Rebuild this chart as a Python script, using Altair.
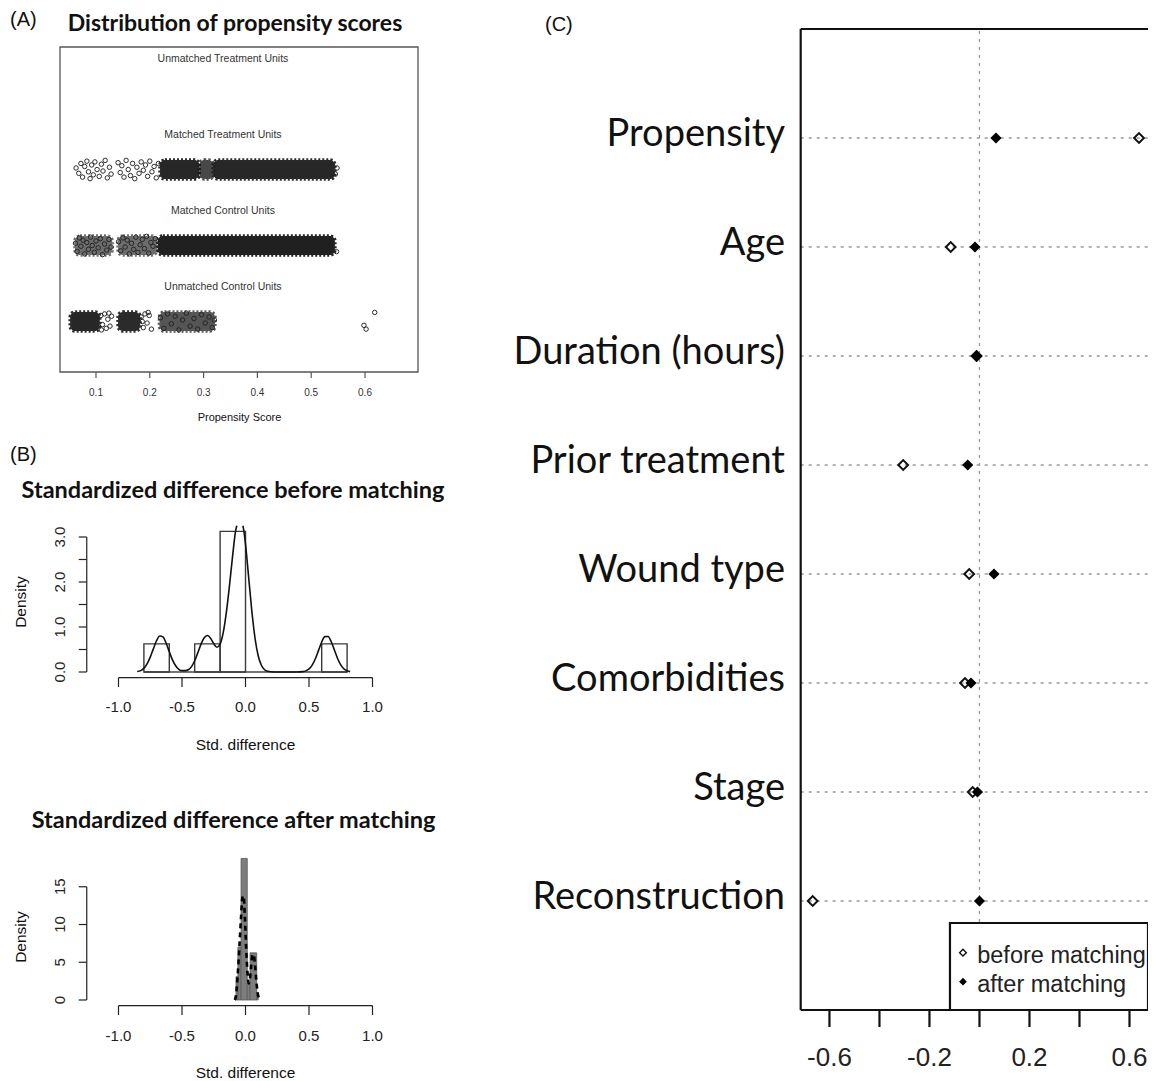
import altair as alt
import pandas as pd

# ---------------- Panel A: distribution of propensity scores ----------------
a_groups = ["Unmatched Control Units", "Matched Control Units",
            "Matched Treatment Units", "Unmatched Treatment Units"]
a_group_rows = [1, 2, 3, 4]
a_label_x = 0.336
a_ticks = [0.1, 0.2, 0.3, 0.4, 0.5, 0.6]
a_tick_labels = ["0.1", "0.2", "0.3", "0.4", "0.5", "0.6"]

# dense clusters of overlapping units: row, start score, end score, darkness
a_blob_row = [3, 3, 3, 2, 2, 2, 1, 1, 1]
a_blob_start = [0.219, 0.292, 0.318, 0.061, 0.141, 0.215, 0.052, 0.141, 0.218]
a_blob_end = [0.292, 0.318, 0.544, 0.130, 0.213, 0.544, 0.107, 0.182, 0.321]
a_blob_dark = [0.92, 0.78, 0.92, 0.62, 0.62, 0.95, 0.92, 0.90, 0.72]

# scattered units: score and vertical jitter (rows)
a_mt_score = [0.063, 0.068, 0.072, 0.075, 0.079, 0.083, 0.086, 0.089, 0.092, 0.095,
              0.098, 0.102, 0.106, 0.110, 0.113, 0.117, 0.121, 0.125, 0.128, 0.141,
              0.145, 0.148, 0.152, 0.156, 0.160, 0.164, 0.168, 0.172, 0.176, 0.180,
              0.184, 0.188, 0.192, 0.196, 0.200, 0.204, 0.208, 0.212, 0.216, 0.540,
              0.545, 0.548]
a_mt_jitter = [0.02, -0.05, 0.08, -0.10, 0.04, 0.11, -0.03, -0.12, 0.06, -0.07,
               0.10, 0.00, -0.09, 0.07, -0.02, 0.12, -0.11, 0.03, -0.06, 0.09,
               -0.04, 0.05, -0.10, 0.12, 0.00, -0.08, 0.08, -0.12, 0.03, -0.05,
               0.10, -0.01, 0.06, -0.09, 0.11, -0.03, 0.04, -0.11, 0.08, 0.05,
               -0.06, 0.02]
a_mc_score = [0.062, 0.065, 0.069, 0.072, 0.076, 0.079, 0.083, 0.086, 0.090, 0.093,
              0.097, 0.100, 0.104, 0.108, 0.112, 0.116, 0.120, 0.124, 0.128, 0.142,
              0.146, 0.150, 0.154, 0.158, 0.162, 0.166, 0.170, 0.174, 0.178, 0.182,
              0.186, 0.190, 0.194, 0.198, 0.202, 0.206, 0.210, 0.547]
a_mc_jitter = [0.03, -0.08, 0.10, -0.01, 0.07, -0.11, 0.04, -0.05, 0.11, 0.00,
               -0.09, 0.06, -0.03, 0.09, -0.12, 0.02, -0.06, 0.08, -0.02, 0.05,
               -0.07, 0.10, -0.02, 0.07, -0.11, 0.03, -0.05, 0.11, -0.09, 0.01,
               0.08, -0.04, 0.12, -0.10, 0.04, -0.01, 0.09, -0.08]
a_uc_score = [0.109, 0.112, 0.116, 0.119, 0.122, 0.126, 0.129, 0.110, 0.124,
              0.184, 0.188, 0.191, 0.195, 0.199, 0.203, 0.186, 0.197,
              0.220, 0.226, 0.233, 0.240, 0.247, 0.254, 0.261, 0.268, 0.275, 0.282,
              0.289, 0.296, 0.303, 0.310, 0.316, 0.320,
              0.598, 0.602, 0.618]
a_uc_jitter = [0.08, -0.04, 0.10, -0.09, 0.03, -0.06, 0.07, -0.11, 0.11,
               0.06, -0.08, 0.10, -0.02, 0.08, -0.10, 0.00, 0.12,
               0.05, -0.09, 0.10, -0.03, 0.07, -0.11, 0.02, 0.11, -0.06, 0.04,
               -0.10, 0.09, -0.02, 0.06, -0.08, 0.02,
               -0.05, -0.10, 0.12]

# ---------------- Panel B: standardized differences ----------------
b_x_ticks = [-1.0, -0.5, 0.0, 0.5, 1.0]
b_x_tick_labels = ["-1.0", "-0.5", "0.0", "0.5", "1.0"]

b1_bin_lo = [-0.8, -0.6, -0.4, -0.2, 0.0, 0.2, 0.4, 0.6]
b1_bin_hi = [-0.6, -0.4, -0.2, 0.0, 0.2, 0.4, 0.6, 0.8]
b1_density = [0.625, 0.0, 0.625, 3.125, 0.0, 0.0, 0.0, 0.625]
b1_curve_left_x = [-0.853, -0.825, -0.80, -0.775, -0.75, -0.725, -0.70, -0.675, -0.65,
                   -0.625, -0.60, -0.575, -0.55, -0.525, -0.50, -0.475, -0.45, -0.425,
                   -0.40, -0.375, -0.35, -0.325, -0.30, -0.275, -0.25, -0.225, -0.20,
                   -0.175, -0.15, -0.125, -0.10, -0.075, -0.068]
b1_curve_left_y = [0.01, 0.03, 0.08, 0.18, 0.33, 0.52, 0.70, 0.80, 0.78,
                   0.64, 0.45, 0.27, 0.14, 0.06, 0.03, 0.03, 0.05, 0.12,
                   0.25, 0.43, 0.62, 0.76, 0.81, 0.75, 0.63, 0.55, 0.62,
                   0.88, 1.34, 1.95, 2.62, 3.18, 3.25]
b1_curve_right_x = [-0.020, -0.010, 0.0, 0.025, 0.05, 0.075, 0.10, 0.125, 0.15, 0.175,
                    0.20, 0.25, 0.30, 0.35, 0.40, 0.45, 0.475, 0.50, 0.525, 0.55,
                    0.575, 0.60, 0.625, 0.65, 0.675, 0.70, 0.725, 0.75, 0.775, 0.80, 0.824]
b1_curve_right_y = [3.25, 3.08, 2.84, 2.10, 1.35, 0.75, 0.36, 0.15, 0.05, 0.015,
                    0.004, 0.0, 0.0, 0.0, 0.0, 0.008, 0.025, 0.068, 0.153, 0.294,
                    0.48, 0.667, 0.787, 0.79, 0.673, 0.488, 0.30, 0.157, 0.07, 0.027, 0.009]
b1_y_ticks = [0.0, 0.5, 1.0, 1.5, 2.0, 2.5, 3.0]
b1_y_tick_labels = ["0.0", "", "1.0", "", "2.0", "", "3.0"]

b2_bin_lo = [-0.075, -0.060, -0.035, 0.014, 0.036, 0.088]
b2_bin_hi = [-0.060, -0.035, 0.014, 0.036, 0.088, 0.100]
b2_density = [3.1, 7.0, 18.75, 2.3, 6.25, 1.0]
b2_curve_x = [-0.085, -0.075, -0.065, -0.055, -0.045, -0.035, -0.025, -0.015, -0.005,
              0.005, 0.015, 0.025, 0.035, 0.045, 0.055, 0.065, 0.075, 0.085, 0.095,
              0.105, 0.115]
b2_curve_y = [0.0, 0.6, 2.5, 5.0, 8.0, 11.0, 13.5, 13.8, 11.0,
              7.0, 3.8, 2.2, 2.8, 4.6, 6.0, 6.0, 4.6, 2.6, 1.0,
              0.3, 0.0]
b2_y_ticks = [0, 5, 10, 15]
b2_y_tick_labels = ["0", "5", "10", "15"]

# ---------------- Panel C: covariate balance ----------------
covariates = ["Propensity", "Age", "Duration (hours)", "Prior treatment ",
              "Wound type ", "Comorbidities", "Stage", "Reconstruction"]
c_rows = [8, 7, 6, 5, 4, 3, 2, 1]
before_matching = [0.638, -0.115, -0.012, -0.305, -0.041, -0.058, -0.027, -0.667]
after_matching = [0.066, -0.018, -0.010, -0.047, 0.058, -0.034, -0.008, 0.000]
c_ticks = [-0.6, -0.4, -0.2, 0.0, 0.2, 0.4, 0.6]
c_tick_labels = ["-0.6", "", "-0.2", "", "0.2", "", "0.6"]
c_legend_labels = ["before matching", "after matching"]

# ---------------- scales (each panel placed on one canvas) ----------------
def S(domain, rng):
    return alt.Scale(domain=domain, range=rng, zero=False, nice=False)

A_XD, A_YD = [0.0331, 0.6985], [0.336, 4.612]
B_XD, B1_YD, B2_YD = [-1.25, 1.25], [-0.125, 3.25], [-0.75, 19.5]
C_XD, C_YD = [-0.715, 0.674], [0, 9]
XA, YA = S(A_XD, [52, 410]), S(A_YD, [364, 39])
XB = S(B_XD, [78.75, 396.25])
YB1 = S(B1_YD, [669.625, 517.75])
YB2 = S(B2_YD, [997.66, 844.8])
XC, YC = S(C_XD, [792.7, 1140]), S(C_YD, [1002, 21])

RFONT = "Liberation Sans"
TFONT = "Lato"


def X(f, s):
    return alt.X(f + ":Q", scale=s, axis=None)


def Y(f, s):
    return alt.Y(f + ":Q", scale=s, axis=None)


# ================= Panel A =================
a_frame = alt.Chart(pd.DataFrame({"x": [A_XD[0]], "x2": [A_XD[1]], "y": [A_YD[0]], "y2": [A_YD[1]]})).mark_rect(
    fill="white", fillOpacity=0, stroke="#555", strokeWidth=1.3
).encode(x=X("x", XA), x2="x2:Q", y=Y("y", YA), y2="y2:Q")

blob_df = pd.DataFrame({"row": a_blob_row, "x0": a_blob_start, "x1": a_blob_end, "op": a_blob_dark})
blob_df["y0"] = blob_df["row"] - 0.125
blob_df["y1"] = blob_df["row"] + 0.125
a_blobs = alt.Chart(blob_df).mark_rect(color="#151515", cornerRadius=5, stroke="#1a1a1a",
                                       strokeWidth=3.5, strokeDash=[2, 2]).encode(
    x=X("x0", XA), x2="x1:Q", y=Y("y0", YA), y2="y1:Q",
    opacity=alt.Opacity("op:Q", scale=None, legend=None))

pts = pd.concat([
    pd.DataFrame({"s": a_mt_score, "j": a_mt_jitter, "row": 3}),
    pd.DataFrame({"s": a_mc_score, "j": a_mc_jitter, "row": 2}),
    pd.DataFrame({"s": a_uc_score, "j": a_uc_jitter, "row": 1}),
], ignore_index=True)
pts["y"] = pts["row"] + pts["j"]
a_points = alt.Chart(pts).mark_point(shape="circle", size=20, filled=False, color="#222",
                                     strokeWidth=1.0, opacity=0.95).encode(
    x=X("s", XA), y=Y("y", YA))

grp_df = pd.DataFrame({"g": a_groups, "row": a_group_rows})
grp_df["x"] = a_label_x
grp_df["y"] = grp_df["row"] + 0.45
a_group_text = alt.Chart(grp_df).mark_text(font=RFONT, fontSize=10.5, color="#333", baseline="middle").encode(
    x=X("x", XA), y=Y("y", YA), text="g:N")

a_tick_df = pd.DataFrame({"v": a_ticks, "t": a_tick_labels})
a_tick_df["y"] = A_YD[0]
a_tick_rules = alt.Chart(a_tick_df).mark_rule(color="#555", strokeWidth=1.2).encode(
    x=X("v", XA), y=Y("y", YA), y2=alt.value(370))
a_tick_text = alt.Chart(a_tick_df).mark_text(font=RFONT, fontSize=10, color="#333", baseline="middle").encode(
    x=X("v", XA), y=alt.value(385), text="t:N")

panel_a = alt.layer(a_frame, a_blobs, a_points, a_group_text, a_tick_rules, a_tick_text)


# ================= Panel B helpers =================
def b_axes(yscale, yd, y_ticks, y_labels, y_top, tick_end_y, label_y):
    ydf = pd.DataFrame({"v": y_ticks, "t": y_labels})
    ydf["x"] = B_XD[0]
    yline = alt.Chart(pd.DataFrame({"x": [B_XD[0]], "y": [0.0], "y2": [y_top]})).mark_rule(
        color="#222", strokeWidth=1.2).encode(x=X("x", XB), y=Y("y", yscale), y2="y2:Q")
    yt = alt.Chart(ydf).mark_rule(color="#222", strokeWidth=1.2).encode(
        x=X("x", XB), x2=alt.value(70.75), y=Y("v", yscale))
    ytxt = alt.Chart(ydf).mark_text(font=RFONT, fontSize=15, color="#222", angle=270,
                                    baseline="middle", align="center").encode(
        x=alt.value(52), y=Y("v", yscale), text="t:N")
    xdf = pd.DataFrame({"v": b_x_ticks, "t": b_x_tick_labels})
    xdf["y"] = yd[0]
    xline = alt.Chart(pd.DataFrame({"x": [-1.0], "x2": [1.0], "y": [yd[0]]})).mark_rule(
        color="#222", strokeWidth=1.2).encode(x=X("x", XB), x2="x2:Q", y=Y("y", yscale))
    xt = alt.Chart(xdf).mark_rule(color="#222", strokeWidth=1.2).encode(
        x=X("v", XB), y=Y("y", yscale), y2=alt.value(tick_end_y))
    xtxt = alt.Chart(xdf).mark_text(font=RFONT, fontSize=15, color="#222", baseline="middle").encode(
        x=X("v", XB), y=alt.value(label_y), text="t:N")
    return [yline, yt, ytxt, xline, xt, xtxt]


# ================= Panel B1 (before matching) =================
b1_df = pd.DataFrame({"lo": b1_bin_lo, "hi": b1_bin_hi, "d": b1_density})
b1_df["z"] = 0.0
b1_bars = alt.Chart(b1_df[b1_df["d"] > 0]).mark_rect(fill="white", fillOpacity=0, stroke="#3a3a3a",
                                                     strokeWidth=1.4).encode(
    x=X("lo", XB), x2="hi:Q", y=Y("z", YB1), y2="d:Q")
b1_base = alt.Chart(b1_df).mark_rule(color="#3a3a3a", strokeWidth=1.4).encode(
    x=X("lo", XB), x2="hi:Q", y=Y("z", YB1))
b1_curve_df = pd.concat([
    pd.DataFrame({"x": b1_curve_left_x, "y": b1_curve_left_y, "seg": "left"}),
    pd.DataFrame({"x": b1_curve_right_x, "y": b1_curve_right_y, "seg": "right"}),
], ignore_index=True)
b1_curve = alt.Chart(b1_curve_df).mark_line(color="#111", strokeWidth=1.6, interpolate="monotone").encode(
    x=X("x", XB), y=Y("y", YB1), detail="seg:N")
panel_b1 = alt.layer(b1_base, b1_bars, b1_curve,
                     *b_axes(YB1, B1_YD, b1_y_ticks, b1_y_tick_labels, 3.0, 679, 699))

# ================= Panel B2 (after matching) =================
b2_df = pd.DataFrame({"lo": b2_bin_lo, "hi": b2_bin_hi, "d": b2_density})
b2_df["z"] = 0.0
b2_bars = alt.Chart(b2_df).mark_rect(color="#7d7d7d", stroke="#5a5a5a", strokeWidth=0.8).encode(
    x=X("lo", XB), x2="hi:Q", y=Y("z", YB2), y2="d:Q")
b2_curve = alt.Chart(pd.DataFrame({"x": b2_curve_x, "y": b2_curve_y})).mark_line(
    color="#000", strokeWidth=2.6, strokeDash=[5, 4], interpolate="monotone").encode(
    x=X("x", XB), y=Y("y", YB2))
panel_b2 = alt.layer(b2_bars, b2_curve,
                     *b_axes(YB2, B2_YD, b2_y_ticks, b2_y_tick_labels, 15, 1007, 1028))

# ================= Panel C =================
c_df = pd.DataFrame({"cov": covariates, "row": c_rows, "before": before_matching, "after": after_matching})
c_df["xl"] = C_XD[0]
c_df["xr"] = C_XD[1]
c_hgrid = alt.Chart(c_df).mark_rule(color="#9a9a9a", strokeWidth=1.3, strokeDash=[3, 5]).encode(
    x=X("xl", XC), x2="xr:Q", y=Y("row", YC))
c_vgrid = alt.Chart(pd.DataFrame({"x": [0.0], "y": [C_YD[0]], "y2": [C_YD[1]]})).mark_rule(
    color="#9a9a9a", strokeWidth=1.3, strokeDash=[3, 5]).encode(x=X("x", XC), y=Y("y", YC), y2="y2:Q")
frame_h = alt.Chart(pd.DataFrame({"x": [C_XD[0]] * 2, "x2": [C_XD[1]] * 2, "y": C_YD})).mark_rule(
    color="#111", strokeWidth=2.2).encode(x=X("x", XC), x2="x2:Q", y=Y("y", YC))
frame_v = alt.Chart(pd.DataFrame({"x": [C_XD[0]], "y": [C_YD[0]], "y2": [C_YD[1]]})).mark_rule(
    color="#111", strokeWidth=2.2).encode(x=X("x", XC), y=Y("y", YC), y2="y2:Q")
c_before = alt.Chart(c_df).mark_point(shape="diamond", size=95, filled=False, color="#111",
                                      strokeWidth=2.0, opacity=1).encode(x=X("before", XC), y=Y("row", YC))
c_after = alt.Chart(c_df).mark_point(shape="diamond", size=125, filled=True, color="#000",
                                     opacity=1).encode(x=X("after", XC), y=Y("row", YC))
c_labels = alt.Chart(c_df).mark_text(font=TFONT, fontSize=38, color="#111", align="right",
                                     baseline="alphabetic", dy=8).encode(
    x=alt.value(777), y=Y("row", YC), text="cov:N")
c_tick_df = pd.DataFrame({"v": c_ticks, "t": c_tick_labels})
c_tick_df["y"] = C_YD[0]
c_tick_rules = alt.Chart(c_tick_df).mark_rule(color="#111", strokeWidth=2.2).encode(
    x=X("v", XC), y=Y("y", YC), y2=alt.value(1019))
c_tick_text = alt.Chart(c_tick_df).mark_text(font=RFONT, fontSize=26, color="#222", baseline="middle").encode(
    x=X("v", XC), y=alt.value(1050), text="t:N")

leg_box = alt.Chart(pd.DataFrame({"x": [-0.118], "x2": [C_XD[1]], "y": [0.0], "y2": [0.798]})).mark_rect(
    fill="white", stroke="#111", strokeWidth=2.2).encode(x=X("x", XC), x2="x2:Q", y=Y("y", YC), y2="y2:Q")
leg_df = pd.DataFrame({"t": c_legend_labels, "row": [0.526, 0.26], "sx": [-0.066, -0.066], "tx": [-0.009, -0.009]})
leg_sym_open = alt.Chart(leg_df.iloc[[0]]).mark_point(shape="diamond", size=45, filled=False, color="#111",
                                                      strokeWidth=1.4, opacity=1).encode(
    x=X("sx", XC), y=Y("row", YC))
leg_sym_fill = alt.Chart(leg_df.iloc[[1]]).mark_point(shape="diamond", size=60, filled=True, color="#000",
                                                      opacity=1).encode(x=X("sx", XC), y=Y("row", YC))
leg_text = alt.Chart(leg_df).mark_text(font=RFONT, fontSize=23.5, color="#222", align="left",
                                       baseline="middle", dy=3).encode(
    x=X("tx", XC), y=Y("row", YC), text="t:N")

panel_c = alt.layer(c_hgrid, c_vgrid, frame_h, frame_v, c_tick_rules, c_tick_text, leg_box,
                    c_before, c_after, c_labels, leg_sym_open, leg_sym_fill, leg_text)

# ================= Titles and panel letters =================
one = pd.DataFrame({"k": [0]})


def note(text, x, y, size, font, weight="normal", align="center", angle=0, baseline="middle"):
    return alt.Chart(one).mark_text(text=text, font=font, fontSize=size, fontWeight=weight, align=align,
                                    baseline=baseline, color="#111", angle=angle).encode(
        x=alt.value(x), y=alt.value(y))


notes = alt.layer(
    note("(A)", 2, 12, 20, RFONT, align="left"),
    note("Distribution of propensity scores", 227, 23, 23, TFONT, "bold", baseline="alphabetic"),
    note("Propensity Score", 231.5, 410, 11, RFONT),
    note("(B)", 2, 447, 20, RFONT, align="left"),
    note("Standardized difference before matching", 225, 490, 23.5, TFONT, "bold", baseline="alphabetic"),
    note("Density", 12.5, 594, 15.5, RFONT, angle=270),
    note("Std. difference", 237.5, 737, 15.5, RFONT),
    note("Standardized difference after matching", 225.5, 820, 23.5, TFONT, "bold", baseline="alphabetic"),
    note("Density", 12.5, 929, 15.5, RFONT, angle=270),
    note("Std. difference", 237.5, 1065, 15.5, RFONT),
    note("(C)", 537, 17, 20, RFONT, align="left"),
)

chart = alt.layer(panel_a, panel_b1, panel_b2, panel_c, notes).resolve_scale(
    x="independent", y="independent"
).properties(
    width=1140, height=1073, padding=0, autosize=alt.AutoSizeParams(type="none"),
    background="white"
).configure_view(stroke=None)

chart.save("out.html", embed_options={"renderer": "svg", "actions": False})
